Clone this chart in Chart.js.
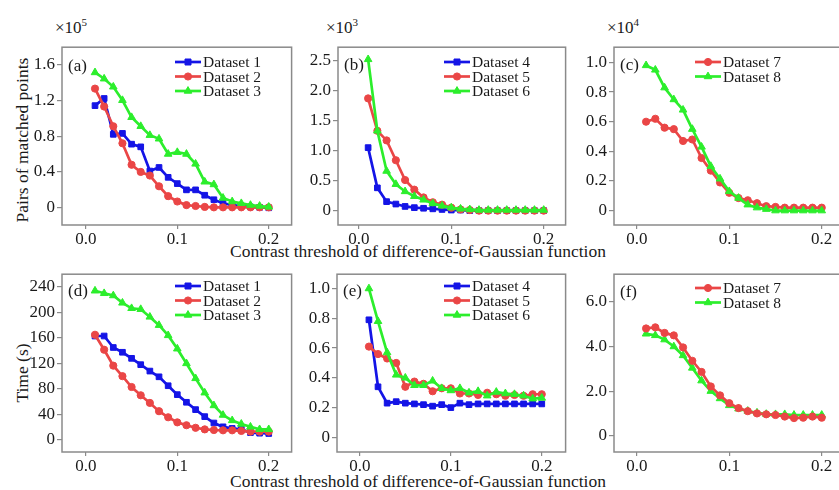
<!DOCTYPE html>
<html><head><meta charset="utf-8">
<script src="https://cdn.jsdelivr.net/npm/chart.js@4/dist/chart.umd.min.js"></script>
<style>
html,body{margin:0;padding:0;background:#fff;width:839px;height:490px;overflow:hidden;position:relative;font-family:"Liberation Serif",serif;color:#1a1a1a}
.pane{position:absolute}
.t{position:absolute;font-size:17.5px;white-space:nowrap;line-height:1}
.c{transform:translate(-50%,-50%)}
.r{transform:translate(-50%,-50%) rotate(-90deg)}
sup{font-size:11px;vertical-align:7px}
</style></head><body>
<div class="t c" style="left:418px;top:252px">Contrast threshold of difference-of-Gaussian function</div>
<div class="t c" style="left:418px;top:482px">Contrast threshold of difference-of-Gaussian function</div>
<div class="t r" style="left:23px;top:140px">Pairs of matched points</div>
<div class="t r" style="left:23px;top:373px">Time (s)</div>
<div class="t" style="left:55px;top:17px;font-size:17px">×10<sup>5</sup></div>
<div class="t" style="left:326px;top:17px;font-size:17px">×10<sup>3</sup></div>
<div class="t" style="left:607px;top:17px;font-size:17px">×10<sup>4</sup></div>
<script>
// ---- data ----
const thresholds = [0.01,0.02,0.03,0.04,0.05,0.06,0.07,0.08,0.09,0.10,0.11,0.12,0.13,0.14,0.15,0.16,0.17,0.18,0.19,0.20];
const xTicks = [0, 0.1, 0.2];

// Pairs of matched points
const pairsDataset1 = [1.14,1.22,0.82,0.83,0.71,0.68,0.41,0.45,0.34,0.27,0.20,0.20,0.14,0.09,0.05,0.03,0.02,0.01,0.005,0.0];
const pairsDataset2 = [1.33,1.13,0.91,0.72,0.48,0.40,0.36,0.24,0.13,0.07,0.03,0.02,0.01,0.005,0.005,0.005,0.005,0.005,0.005,0.005];
const pairsDataset3 = [1.51,1.44,1.35,1.20,1.01,0.91,0.81,0.77,0.60,0.62,0.60,0.49,0.29,0.26,0.11,0.07,0.05,0.03,0.02,0.01];
const pairsDataset4 = [1.05,0.38,0.15,0.11,0.07,0.05,0.04,0.03,0.02,0.01,0.01,0,0,0,0,0,0,0,0,0];
const pairsDataset5 = [1.87,1.33,1.17,0.84,0.51,0.35,0.22,0.14,0.10,0.05,0.02,0.01,0,0,0,0,0,0,0,0];
const pairsDataset6 = [2.52,1.33,0.66,0.44,0.32,0.24,0.18,0.12,0.08,0.05,0.03,0.02,0.01,0.01,0.01,0.01,0.01,0.01,0.01,0.01];
const pairsDataset7 = [0.60,0.62,0.56,0.55,0.47,0.48,0.355,0.27,0.19,0.12,0.085,0.07,0.05,0.03,0.025,0.02,0.02,0.02,0.02,0.02];
const pairsDataset8 = [0.98,0.95,0.83,0.75,0.68,0.55,0.43,0.30,0.215,0.13,0.085,0.04,0.02,0.01,0,0,0,0,0,0];

// Time (s)
const timeDataset1 = [163,163,145,137.5,128,118,108,99,85,71,59,47.5,36.5,26.5,20.5,18,16.5,11.5,10.5,10];
const timeDataset2 = [165,141.5,116.5,100,83,70,58,45,35.5,27.5,23,19,16.5,15.5,15,15,14,13,13,13];
const timeDataset3 = [234,230,226.5,215,206.5,205,193,180,164,143,120,96.5,74,54,39,30.5,25,20.5,16.5,16.5];
const timeDataset4 = [0.79,0.34,0.23,0.24,0.23,0.225,0.22,0.21,0.22,0.20,0.23,0.22,0.225,0.225,0.225,0.225,0.225,0.225,0.225,0.225];
const timeDataset5 = [0.61,0.56,0.53,0.50,0.34,0.375,0.36,0.31,0.33,0.33,0.295,0.295,0.285,0.30,0.29,0.28,0.285,0.28,0.29,0.29];
const timeDataset6 = [1.0,0.78,0.57,0.42,0.40,0.35,0.35,0.38,0.33,0.315,0.33,0.30,0.31,0.28,0.305,0.295,0.29,0.28,0.26,0.265];
const timeDataset7 = [4.81,4.86,4.61,4.5,3.96,3.36,2.86,2.21,1.81,1.46,1.24,1.10,1.0,0.96,0.93,0.86,0.79,0.81,0.86,0.81];
const timeDataset8 = [4.57,4.5,4.31,4.0,3.6,3.04,2.47,2.0,1.67,1.36,1.21,1.11,1.03,0.97,0.96,0.96,0.93,0.93,0.93,0.93];

// tick labels
const pairsTicksA = [0,0.4,0.8,1.2,1.6];
const pairsTicksB = [0,0.5,1.0,1.5,2.0,2.5];
const pairsTicksC = [0,0.2,0.4,0.6,0.8,1.0];
const timeTicksD = [0,40,80,120,160,200,240];
const timeTicksE = [0,0.2,0.4,0.6,0.8,1.0];
const timeTicksF = [0,2,4,6];

// ---- styles ----
Chart.defaults.font.family = '"Liberation Serif", "Times New Roman", serif';
const BLUE='#1414e6', RED='#ea4646', GREEN='#2cee2c';
const styleOf = {
  'Dataset 1':[BLUE,'rect'],'Dataset 4':[BLUE,'rect'],
  'Dataset 2':[RED,'circle'],'Dataset 5':[RED,'circle'],'Dataset 7':[RED,'circle'],
  'Dataset 3':[GREEN,'triangle'],'Dataset 6':[GREEN,'triangle'],'Dataset 8':[GREEN,'triangle']
};
const radiusOf = {rect:4, circle:3.6, triangle:4.4};

function drawMarker(ctx, style, x, y, color){
  ctx.save(); ctx.fillStyle=color; ctx.strokeStyle=color; ctx.lineWidth=1;
  ctx.beginPath();
  if(style==='rect'){ ctx.rect(x-3,y-3,6,6); }
  else if(style==='circle'){ ctx.arc(x,y,3.6,0,Math.PI*2); }
  else { const r=4.4; ctx.moveTo(x,y-r); ctx.lineTo(x+r*0.866,y+r*0.5); ctx.lineTo(x-r*0.866,y+r*0.5); ctx.closePath(); }
  ctx.fill(); ctx.stroke(); ctx.restore();
}

const panelPlugin = {
  id:'panel',
  afterDraw(chart, args, o){
    const ctx=chart.ctx, a=chart.chartArea;
    ctx.save();
    ctx.strokeStyle='#8a8a8a'; ctx.lineWidth=1.5;
    ctx.strokeRect(a.left, a.top, a.right-a.left, a.bottom-a.top);
    ctx.fillStyle='#1a1a1a'; ctx.textBaseline='middle'; ctx.textAlign='left';
    ctx.font='17px "Liberation Serif", serif';
    ctx.fillText(o.tag, a.left+6, a.top+o.tagDy);
    ctx.font='15.5px "Liberation Serif", serif';
    chart.data.datasets.forEach((ds,i)=>{
      const x=o.lx, y=o.ly+i*14.5;
      ctx.strokeStyle=ds.borderColor; ctx.lineWidth=2.7;
      ctx.beginPath(); ctx.moveTo(x,y); ctx.lineTo(x+26,y); ctx.stroke();
      drawMarker(ctx, ds.pointStyle, x+13, y, ds.borderColor);
      ctx.fillStyle='#1a1a1a';
      ctx.fillText(ds.label, x+28, y+1);
    });
    ctx.restore();
  }
};

const L=50,T=4,R=4,B=26;
function makePanel(p){
  const [bl,bt,br,bb]=p.box;
  const W=br-bl+L+R, H=bb-bt+T+B;
  const div=document.createElement('div'); div.className='pane';
  div.style.left=(bl-L)+'px'; div.style.top=(bt-T)+'px';
  div.style.width=W+'px'; div.style.height=H+'px';
  const cv=document.createElement('canvas'); cv.width=W; cv.height=H;
  cv.style.width=W+'px'; cv.style.height=H+'px';
  div.appendChild(cv); document.body.appendChild(div);
  const n=p.series.length;
  const datasets=p.series.map(([label,vals],i)=>{
    const [col,ps]=styleOf[label];
    return {label, data:thresholds.map((t,k)=>({x:t,y:vals[k]})), borderColor:col, backgroundColor:col,
      pointStyle:ps, pointRadius:radiusOf[ps], pointBorderWidth:1, pointBackgroundColor:col,
      borderWidth:2.7, tension:0, order: p.redTop ? i : n-1-i};
  });
  const tickFont={size:17};
  new Chart(cv,{
    type:'line',
    data:{datasets},
    plugins:[panelPlugin],
    options:{
      responsive:false, animation:false, devicePixelRatio:1,
      layout:{padding:{top:T,right:R,left:0,bottom:0}},
      plugins:{legend:{display:false}, tooltip:{enabled:false},
        panel:{tag:p.tag, tagDy:p.tagDy, lx:p.legend[0]-(bl-L), ly:p.legend[1]-(bt-T)}},
      scales:{
        x:{type:'linear', min:p.x[0], max:p.x[1],
          afterBuildTicks:s=>{s.ticks=xTicks.map(v=>({value:v}));},
          afterFit:s=>{s.height=B;},
          ticks:{callback:v=>v.toFixed(1), font:tickFont, color:'#1a1a1a', padding:0, maxRotation:0, autoSkip:false},
          grid:{drawOnChartArea:false, drawTicks:true, tickLength:4, color:'#8a8a8a', lineWidth:1.2},
          border:{display:false}},
        y:{type:'linear', min:p.y[0], max:p.y[1],
          afterBuildTicks:s=>{s.ticks=p.ticks.map(v=>({value:v}));},
          afterFit:s=>{s.width=L;},
          ticks:{callback:v=>v===0?'0':v.toFixed(p.dec), font:tickFont, color:'#1a1a1a', padding:2, autoSkip:false},
          grid:{drawOnChartArea:false, drawTicks:true, tickLength:5, color:'#8a8a8a', lineWidth:1.2},
          border:{display:false}}
      }
    }
  });
}

const panels=[
  {box:[62,39,293,225], x:[-0.0261,0.225], y:[-0.192,1.792], ticks:pairsTicksA, dec:1, tag:'(a)', tagDy:19, legend:[175,62],
   series:[['Dataset 1',pairsDataset1],['Dataset 2',pairsDataset2],['Dataset 3',pairsDataset3]]},
  {box:[338,39,567,225], x:[-0.0226,0.2237], y:[-0.239,2.723], ticks:pairsTicksB, dec:1, tag:'(b)', tagDy:18, legend:[444,62],
   series:[['Dataset 4',pairsDataset4],['Dataset 5',pairsDataset5],['Dataset 6',pairsDataset6]]},
  {box:[614,39,843,225], x:[-0.0247,0.2215], y:[-0.097,1.103], ticks:pairsTicksC, dec:1, tag:'(c)', tagDy:18, legend:[695,62],
   series:[['Dataset 7',pairsDataset7],['Dataset 8',pairsDataset8]]},
  {box:[62,266,293,452], x:[-0.0261,0.225], y:[-19,260], ticks:timeTicksD, dec:0, tag:'(d)', tagDy:17, legend:[175,286],
   series:[['Dataset 1',timeDataset1],['Dataset 2',timeDataset2],['Dataset 3',timeDataset3]]},
  {box:[337,266,567,452], x:[-0.0251,0.2262], y:[-0.098,1.0963], ticks:timeTicksE, dec:1, tag:'(e)', tagDy:17, legend:[444,286],
   series:[['Dataset 4',timeDataset4],['Dataset 5',timeDataset5],['Dataset 6',timeDataset6]]},
  {box:[614,266,843,452], x:[-0.0247,0.2215], y:[-0.729,7.243], ticks:timeTicksF, dec:1, tag:'(f)', tagDy:18, legend:[695,288], redTop:true,
   series:[['Dataset 7',timeDataset7],['Dataset 8',timeDataset8]]}
];
panels.forEach(makePanel);
</script>
</body></html>
